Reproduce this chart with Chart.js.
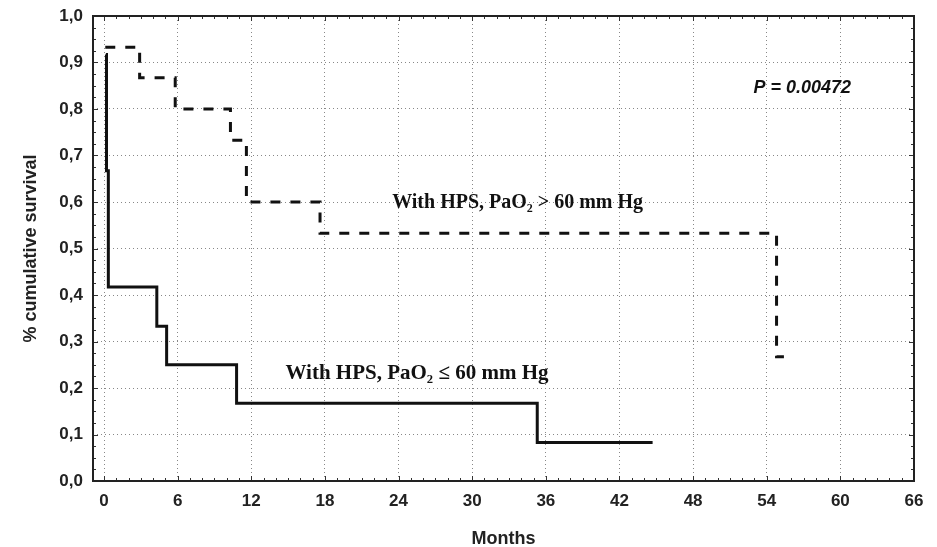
<!DOCTYPE html>
<html>
<head>
<meta charset="utf-8">
<script src="https://cdn.jsdelivr.net/npm/chart.js@4/dist/chart.umd.min.js"></script>
<style>
  html, body { margin: 0; padding: 0; background: #fff; }
  #wrap { width: 937px; height: 547px; }
</style>
</head>
<body>
<div id="wrap"><canvas id="km"></canvas></div>
<script>
// Kaplan-Meier steps (months, cumulative survival)
const lowTimes = [0.15, 0.2, 0.35, 4.3, 5.1, 10.8, 35.3, 44.7];
const lowSurv = [0.917, 0.667, 0.417, 0.333, 0.25, 0.167, 0.083, 0.083];
const highTimes = [0.1, 2.9, 5.8, 10.3, 11.6, 17.6, 54.8, 55.4];
const highSurv = [0.933, 0.867, 0.8, 0.733, 0.6, 0.533, 0.267, 0.267];

const xTicks = [0, 6, 12, 18, 24, 30, 36, 42, 48, 54, 60, 66];
const yTicks = [0, 0.1, 0.2, 0.3, 0.4, 0.5, 0.6, 0.7, 0.8, 0.9, 1.0];

const lowLabel = 'With HPS, PaO\u2082 \u2264 60 mm Hg';
const highLabel = 'With HPS, PaO\u2082 > 60 mm Hg';
const pLabel = 'P = 0.00472';

const toPoints = (xs, ys) => xs.map((x, i) => ({ x: x, y: ys[i] }));

// frame, inside minor ticks and text labels
const extras = {
    id: 'extras',
    afterDatasetsDraw(chart) {
        const ctx = chart.ctx;
        const a = chart.chartArea;
        const xs = chart.scales.x, ys = chart.scales.y;
        ctx.save();
        ctx.strokeStyle = '#333';
        ctx.lineWidth = 1;
        for (let m = 0; m <= 66; m++) {
            const px = Math.round(xs.getPixelForValue(m)) + 0.5;
            const len = m % 6 === 0 ? 5 : 3;
            ctx.beginPath();
            ctx.moveTo(px, a.bottom); ctx.lineTo(px, a.bottom - len);
            ctx.moveTo(px, a.top); ctx.lineTo(px, a.top + len);
            ctx.stroke();
        }
        for (let k = 0; k <= 40; k++) {
            const py = Math.round(ys.getPixelForValue(k * 0.025)) + 0.5;
            const len = k % 4 === 0 ? 5 : 3;
            ctx.beginPath();
            ctx.moveTo(a.left, py); ctx.lineTo(a.left + len, py);
            ctx.moveTo(a.right, py); ctx.lineTo(a.right - len, py);
            ctx.stroke();
        }
        ctx.strokeStyle = '#222';
        ctx.lineWidth = 2;
        ctx.strokeRect(a.left, a.top, a.right - a.left, a.bottom - a.top);

        ctx.fillStyle = '#111';
        ctx.textAlign = 'center';
        ctx.textBaseline = 'middle';
        ctx.font = 'bold 20px "Liberation Serif", serif';
        ctx.fillText(highLabel, xs.getPixelForValue(33.7), ys.getPixelForValue(0.598));
        ctx.font = 'bold 21px "Liberation Serif", serif';
        ctx.fillText(lowLabel, xs.getPixelForValue(25.5), ys.getPixelForValue(0.23));
        ctx.font = 'italic bold 18px "Liberation Sans", Arial, sans-serif';
        ctx.fillText(pLabel, xs.getPixelForValue(56.9), ys.getPixelForValue(0.845));
        ctx.restore();
    }
};

const tickFont = { family: '"Liberation Sans", Arial, sans-serif', size: 17, weight: 'bold' };
const titleFont = { family: '"Liberation Sans", Arial, sans-serif', size: 18, weight: 'bold' };

new Chart(document.getElementById('km'), {
    type: 'line',
    data: {
        datasets: [
            {
                label: highLabel,
                data: toPoints(highTimes, highSurv),
                stepped: true,
                borderColor: '#111',
                borderWidth: 3,
                borderDash: [10, 10],
                pointRadius: 0,
                fill: false
            },
            {
                label: lowLabel,
                data: toPoints(lowTimes, lowSurv),
                stepped: true,
                borderColor: '#111',
                borderWidth: 3,
                pointRadius: 0,
                fill: false
            }
        ]
    },
    options: {
        responsive: true,
        maintainAspectRatio: false,
        animation: false,
        layout: { padding: { top: 16, right: 23, left: 18, bottom: 0 } },
        plugins: { legend: { display: false }, tooltip: { enabled: false } },
        scales: {
            x: {
                type: 'linear',
                min: -0.9,
                max: 66,
                afterBuildTicks: s => { s.ticks = xTicks.map(v => ({ value: v })); },
                afterFit: s => { s.height = 66; s.paddingLeft = 0; s.paddingRight = 0; },
                border: { display: false, dash: [1, 3] },
                grid: { color: '#888', lineWidth: 1, tickLength: 0 },
                ticks: { color: '#222', font: tickFont, padding: 10, maxRotation: 0 },
                title: { display: true, text: 'Months', color: '#222', font: titleFont, padding: { top: 20, bottom: -3 } }
            },
            y: {
                min: 0,
                max: 1,
                afterBuildTicks: s => { s.ticks = yTicks.map(v => ({ value: v })); },
                afterFit: s => { s.width = 75; s.paddingTop = 0; s.paddingBottom = 0; },
                border: { display: false, dash: [1, 3] },
                grid: { color: '#888', lineWidth: 1, tickLength: 0 },
                ticks: { color: '#222', font: tickFont, padding: 10, callback: v => v.toFixed(1).replace('.', ',') },
                title: { display: true, text: '% cumulative survival', color: '#222', font: titleFont, padding: 2 }
            }
        }
    },
    plugins: [extras]
});
</script>
</body>
</html>
